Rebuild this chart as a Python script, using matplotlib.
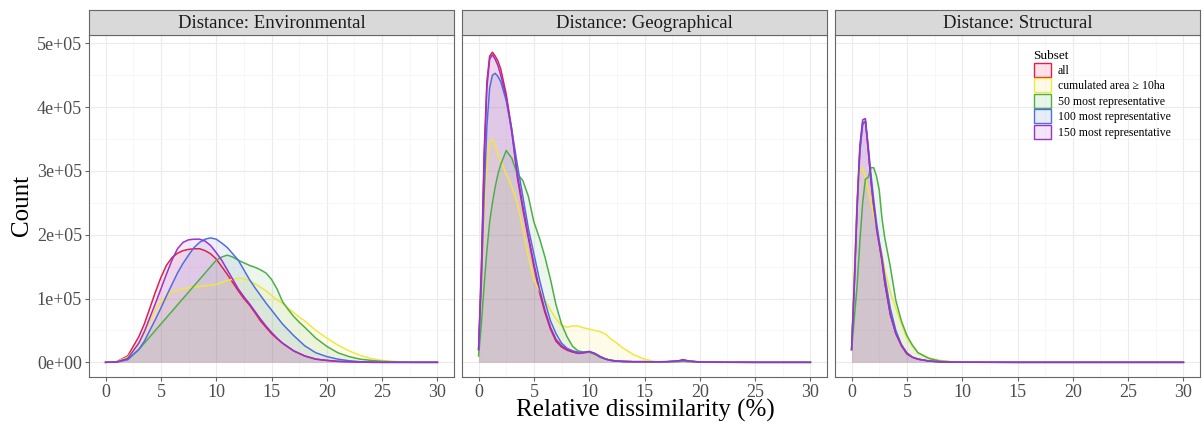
import matplotlib
matplotlib.use("Agg")
import matplotlib.pyplot as plt
from matplotlib.patches import Patch

plt.rcParams['font.family'] = ['Liberation Serif', 'DejaVu Serif']

# ---- data (counts in units of 1e5) ----
panels = ["Distance: Environmental", "Distance: Geographical", "Distance: Structural"]
subsets = ["all", "cumulated area \u2265 10ha", "50 most representative",
           "100 most representative", "150 most representative"]
colors = ["#E0204A", "#F2E640", "#4DAF4A", "#4F6FE0", "#9933CC"]

env_x = [0, 1, 2, 3, 3.5, 4, 4.5, 5, 5.5, 6, 6.5, 7, 7.5, 8, 8.5, 9, 9.5, 10, 10.5, 11, 11.5, 12,
         12.5, 13, 13.5, 14, 14.5, 15, 15.5, 16, 16.5, 17, 17.5, 18, 19, 20, 21, 22, 23, 24, 25,
         26, 27, 28, 29, 30]
env_all = [0, 0.01, 0.1,
           0.4, 0.6, 0.85, 1.1, 1.33, 1.52, 1.64, 1.71, 1.75, 1.77, 1.78, 1.78, 1.75, 1.7, 1.62,
           1.5, 1.38, 1.25, 1.12, 1.0, 0.9, 0.78, 0.65, 0.55, 0.45, 0.37, 0.3, 0.24, 0.18, 0.14, 0.1,
           0.05, 0.03, 0.015, 0.01, 0.005, 0, 0, 0, 0, 0, 0, 0]
env_cum = [0, 0.01, 0.08,
           0.3, 0.47, 0.65, 0.82, 0.95, 1.04, 1.1, 1.13, 1.15, 1.17, 1.18, 1.19, 1.2, 1.21, 1.22,
           1.25, 1.28, 1.3, 1.32, 1.31, 1.28, 1.23, 1.18, 1.12, 1.05, 0.98, 0.92, 0.85, 0.78, 0.71,
           0.65,
           0.5, 0.38, 0.27, 0.18, 0.11, 0.06, 0.03, 0.015, 0.007, 0.003, 0, 0]
env_50 = [0, 0.005, 0.05,
          0.2, 0.3, 0.4, 0.5, 0.6, 0.7, 0.8, 0.9, 1.0, 1.1, 1.2, 1.3, 1.4, 1.5, 1.6, 1.65, 1.68,
          1.65, 1.6, 1.56, 1.52, 1.49, 1.45, 1.4, 1.3, 1.15, 0.95, 0.83, 0.72, 0.63, 0.55,
          0.38, 0.25, 0.15, 0.09, 0.05, 0.03, 0.015, 0.008, 0.003, 0, 0, 0]
env_100 = [0, 0.003, 0.04,
           0.2, 0.33, 0.5, 0.67, 0.85, 1.04, 1.22, 1.4, 1.55, 1.68, 1.8, 1.88, 1.93, 1.95, 1.93,
           1.87, 1.8, 1.7, 1.6, 1.45, 1.3, 1.17, 1.05, 0.93, 0.82, 0.71, 0.6, 0.51, 0.42, 0.34,
           0.26,
           0.15, 0.09, 0.05, 0.025, 0.01, 0.005, 0, 0, 0, 0, 0, 0]
env_150 = [0, 0.005, 0.06,
           0.3, 0.48, 0.7, 0.92, 1.15, 1.38, 1.6, 1.78, 1.88, 1.92, 1.93, 1.93, 1.9, 1.83, 1.72,
           1.6, 1.45, 1.3, 1.15, 1.03, 0.92, 0.8, 0.68, 0.57, 0.47, 0.38, 0.3, 0.24, 0.18, 0.14, 0.1,
           0.05, 0.03, 0.015, 0.01, 0.005, 0, 0, 0, 0, 0, 0, 0]

geo_x = [0, 0.25, 0.5, 0.75, 1, 1.25, 1.5, 1.75, 2, 2.5, 3, 3.5, 4, 4.5, 5, 5.5, 6, 6.5, 7, 7.5, 8,
         8.5, 9, 9.5, 10, 10.5, 11, 11.5, 12, 12.5, 13, 14, 15, 16, 17, 18, 18.5, 19, 20, 22, 25, 30]
geo_all = [0.2, 1.5, 3.3, 4.4, 4.8, 4.86, 4.8, 4.72, 4.6, 4.2, 3.65, 2.9, 2.4, 1.95, 1.5, 1.1, 0.78,
           0.52, 0.33, 0.24, 0.19, 0.16, 0.14, 0.15, 0.16, 0.13, 0.08, 0.05, 0.03, 0.02, 0.015, 0.01,
           0.01, 0.008, 0.01, 0.02, 0.04, 0.02, 0.005, 0.002, 0, 0]
geo_cum = [0.1, 1.0, 2.3, 3.1, 3.45, 3.5, 3.4, 3.25, 3.15, 2.95, 2.75, 2.5, 2.1, 1.65, 1.3, 1.12, 0.98,
           0.82, 0.68, 0.58, 0.55, 0.57, 0.57, 0.54, 0.52, 0.5, 0.48, 0.44, 0.36, 0.3, 0.23, 0.12,
           0.05, 0.01, 0.005, 0.01, 0.02, 0.01, 0.005, 0, 0, 0]
geo_50 = [0.1, 0.6, 1.2, 1.75, 2.2, 2.5, 2.75, 2.95, 3.1, 3.32, 3.2, 2.95, 2.85, 2.6, 2.2, 1.95, 1.65,
          1.3, 0.9, 0.6, 0.4, 0.25, 0.18, 0.16, 0.16, 0.13, 0.08, 0.05, 0.03, 0.02, 0.01, 0.005,
          0.003, 0.002, 0.005, 0.01, 0.02, 0.01, 0.003, 0, 0, 0]
geo_100 = [0.2, 1.2, 2.6, 3.7, 4.3, 4.5, 4.53, 4.48, 4.4, 4.1, 3.65, 3.1, 2.6, 2.1, 1.7, 1.3, 0.95,
           0.65, 0.45, 0.3, 0.22, 0.18, 0.16, 0.16, 0.17, 0.14, 0.09, 0.05, 0.03, 0.02, 0.015, 0.01,
           0.01, 0.008, 0.01, 0.02, 0.03, 0.02, 0.005, 0.002, 0, 0]
geo_150 = [0.2, 1.4, 3.1, 4.3, 4.75, 4.82, 4.75, 4.65, 4.5, 4.15, 3.6, 2.95, 2.45, 1.98, 1.55, 1.15,
           0.82, 0.55, 0.36, 0.26, 0.2, 0.17, 0.14, 0.15, 0.17, 0.14, 0.09, 0.05, 0.03, 0.02, 0.015,
           0.01, 0.01, 0.008, 0.01, 0.02, 0.04, 0.02, 0.005, 0.002, 0, 0]

str_x = [0, 0.25, 0.5, 0.75, 1, 1.25, 1.5, 1.75, 2, 2.25, 2.5, 2.75, 3, 3.5, 4, 4.5, 5, 5.5, 6, 7, 8,
         9, 10, 12, 15, 20, 30]
str_all = [0.2, 1.25, 2.45, 3.35, 3.75, 3.78, 3.32, 2.85, 2.45, 2.1, 1.85, 1.58, 1.25, 0.75, 0.45,
           0.26, 0.13, 0.08, 0.05, 0.02, 0.008, 0.004, 0.002, 0.001, 0, 0, 0]
str_cum = [0.2, 1.5, 2.6, 3.0, 3.05, 2.9, 2.7, 2.5, 2.3, 2.1, 1.9, 1.7, 1.45, 1.1, 0.85, 0.6, 0.38,
           0.25, 0.15, 0.07, 0.03, 0.01, 0.005, 0.002, 0, 0, 0]
str_50 = [0.2, 0.7, 1.2, 1.9, 2.5, 2.87, 2.9, 3.05, 3.05, 2.92, 2.7, 2.25, 1.95, 1.5, 0.97, 0.65, 0.42,
          0.27, 0.15, 0.06, 0.02, 0.008, 0.003, 0.001, 0, 0, 0]
str_100 = [0.2, 1.2, 2.4, 3.3, 3.72, 3.78, 3.4, 2.95, 2.55, 2.2, 1.9, 1.65, 1.35, 0.85, 0.5, 0.28,
           0.15, 0.08, 0.05, 0.02, 0.008, 0.004, 0.002, 0.001, 0, 0, 0]
str_150 = [0.2, 1.3, 2.5, 3.4, 3.8, 3.82, 3.35, 2.85, 2.45, 2.1, 1.85, 1.6, 1.25, 0.75, 0.45, 0.27,
           0.14, 0.08, 0.05, 0.02, 0.008, 0.004, 0.002, 0.001, 0, 0, 0]

panel_x = [env_x, geo_x, str_x]
panel_y = [[env_all, env_cum, env_50, env_100, env_150],
           [geo_all, geo_cum, geo_50, geo_100, geo_150],
           [str_all, str_cum, str_50, str_100, str_150]]

x_ticks = [0, 5, 10, 15, 20, 25, 30]
y_ticks = [0, 1e5, 2e5, 3e5, 4e5, 5e5]
y_labels = ["0e+00", "1e+05", "2e+05", "3e+05", "4e+05", "5e+05"]

# ---- figure ----
W, H = 1204, 430
fig = plt.figure(figsize=(W / 100, H / 100), dpi=100)

lefts = [89, 462, 835]
pw = 365
top, bottom = 35, 377
strip_top = 10
edge = '#666666'

for i, left in enumerate(lefts):
    ax = fig.add_axes([left / W, 1 - bottom / H, pw / W, (bottom - top) / H])
    x = panel_x[i]
    for j in range(len(subsets)):
        y = [v * 1e5 for v in panel_y[i][j]]
        ax.fill_between(x, 0, y, color=colors[j], alpha=0.1, lw=0, zorder=2)
        ax.plot(x, y, color=colors[j], lw=1.1, zorder=3)
    ax.set_xlim(-1.5, 31.5)
    ax.set_ylim(-0.23e5, 5.13e5)
    ax.set_xticks(x_ticks)
    ax.set_xticks([2.5, 7.5, 12.5, 17.5, 22.5, 27.5], minor=True)
    ax.set_yticks(y_ticks)
    ax.set_yticks([0.5e5, 1.5e5, 2.5e5, 3.5e5, 4.5e5], minor=True)
    ax.grid(which='major', color='#EBEBEB', lw=0.8, zorder=0)
    ax.grid(which='minor', color='#F4F4F4', lw=0.5, zorder=0)
    ax.set_axisbelow(True)
    ax.tick_params(which='minor', length=0)
    ax.tick_params(which='major', length=3, width=0.8, color=edge,
                   labelsize=13, labelcolor='#4D4D4D', pad=2)
    ax.set_xticklabels([str(t) for t in x_ticks])
    if i == 0:
        ax.set_yticklabels(y_labels)
    else:
        ax.set_yticklabels([])
        ax.tick_params(axis='y', length=0)
    for s in ax.spines.values():
        s.set_color(edge)
        s.set_linewidth(0.8)

    # strip
    sax = fig.add_axes([left / W, 1 - top / H, pw / W, (top - strip_top) / H])
    sax.set_xticks([])
    sax.set_yticks([])
    sax.set_facecolor('#D9D9D9')
    for s in sax.spines.values():
        s.set_color(edge)
        s.set_linewidth(0.8)
    sax.text(0.5, 0.45, panels[i], ha='center', va='center', fontsize=13.5,
             color='#1A1A1A', transform=sax.transAxes)

    if i == 2:
        handles = [Patch(facecolor=matplotlib.colors.to_rgba(c, 0.12), edgecolor=c, lw=1.0)
                   for c in colors]
        leg = ax.legend(handles, subsets, title="Subset", loc='upper left',
                        bbox_to_anchor=(1030 / W, 1 - 46 / H), bbox_transform=fig.transFigure,
                        frameon=False, fontsize=8.5, title_fontsize=9.5,
                        handlelength=1.45, handleheight=1.45, handletextpad=0.6,
                        labelspacing=0.12, borderaxespad=0, borderpad=0.3)
        leg._legend_box.align = "left"

fig.text(645 / W, 1 - 410 / H, "Relative dissimilarity (%)", ha='center', va='center',
         fontsize=18, color='black')
fig.text(22 / W, 1 - 206 / H, "Count", ha='center', va='center', rotation=90,
         fontsize=18, color='black')

fig.savefig("out.png", dpi=100)
